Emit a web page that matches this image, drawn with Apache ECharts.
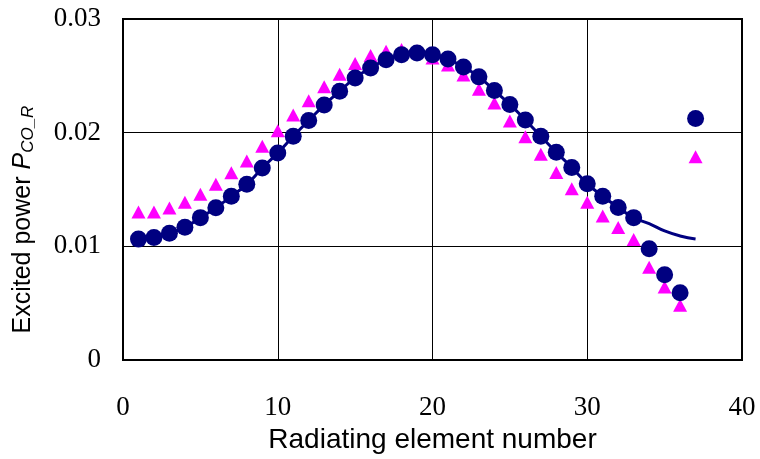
<!DOCTYPE html>
<html>
<head>
<meta charset="utf-8">
<script src="https://cdn.jsdelivr.net/npm/echarts@6/dist/echarts.min.js"></script>
<style>
  html, body { margin: 0; padding: 0; background: #fff; }
  #chart { width: 760px; height: 459px; }
</style>
</head>
<body>
<div id="chart"></div>
<script>
// element numbers 1..37
const elements = [1,2,3,4,5,6,7,8,9,10,11,12,13,14,15,16,17,18,19,20,21,22,23,24,25,26,27,28,29,30,31,32,33,34,35,36,37];

// navy circles
const circleVals = [0.01064,0.01078,0.01116,0.01168,0.01253,0.0134,0.01441,0.01546,0.01689,0.01822,
  0.01968,0.02107,0.02243,0.02365,0.02482,0.02569,0.02642,0.02685,0.027,0.02685,
  0.02648,0.02578,0.02491,0.02371,0.02249,0.02112,0.01968,0.01828,0.01694,0.01552,
  0.01441,0.01343,0.01253,0.00979,0.0075,0.00593,0.02125];

// magenta triangles
const triangleVals = [0.01302,0.01302,0.01337,0.01389,0.01459,0.01546,0.01648,0.01752,0.0188,0.02017,
  0.02156,0.02282,0.02404,0.02513,0.02609,0.02679,0.02717,0.02731,0.0272,0.02656,
  0.02595,0.02507,0.02383,0.02261,0.02104,0.01964,0.01811,0.0165,0.01506,0.01389,
  0.01267,0.01166,0.01061,0.00817,0.00643,0.00482,0.01789];

// solid navy curve
const curveVals = [0.01064,0.01078,0.01116,0.01168,0.01253,0.0134,0.01441,0.01546,0.01689,0.01822,
  0.01968,0.02107,0.02243,0.02365,0.02482,0.02569,0.02642,0.02685,0.027,0.02685,
  0.02648,0.02578,0.02491,0.02371,0.02249,0.02112,0.01968,0.01828,0.01694,0.01552,
  0.01441,0.01343,0.01253,0.0120,0.01136,0.01092,0.01066];

const xTicks = [0, 10, 20, 30, 40];
const yTicks = [0, 0.01, 0.02, 0.03];

const pair = (vals) => elements.map((e, i) => [e, vals[i]]);

const chart = echarts.init(document.getElementById('chart'));

const option = {
  animation: false,
  backgroundColor: '#fff',
  grid: {
    left: 123, right: 18, top: 19, bottom: 96,
    show: true, borderColor: '#000', borderWidth: 2
  },
  xAxis: {
    type: 'value',
    min: xTicks[0], max: xTicks[xTicks.length - 1], interval: 10,
    axisLine: { show: false },
    axisTick: { show: false },
    splitLine: { show: true, lineStyle: { color: '#000', width: 1 } },
    axisLabel: { color: '#000', fontFamily: 'Liberation Serif', fontSize: 27, margin: 34 },
    name: 'Radiating element number',
    nameLocation: 'middle',
    nameGap: 64,
    nameTextStyle: { color: '#000', fontFamily: 'Liberation Sans', fontSize: 28 }
  },
  yAxis: {
    type: 'value',
    min: yTicks[0], max: yTicks[yTicks.length - 1], interval: 0.01,
    axisLine: { show: false },
    axisTick: { show: false },
    splitLine: { show: true, lineStyle: { color: '#000', width: 1 } },
    axisLabel: { color: '#000', fontFamily: 'Liberation Serif', fontSize: 27, margin: 22 },
    name: '{a|Excited power }{p|P}{s|CO_R}',
    nameLocation: 'middle',
    nameRotate: 90,
    nameGap: 86,
    nameTextStyle: {
      color: '#000',
      padding: [0, 60, 0, 0],
      rich: {
        a: { fontFamily: 'Liberation Sans', fontSize: 25, color: '#000' },
        p: { fontFamily: 'Liberation Sans', fontSize: 25, fontStyle: 'italic', color: '#000' },
        s: { fontFamily: 'Liberation Sans', fontSize: 17, fontStyle: 'italic', color: '#000', padding: [10, 0, 0, 0] }
      }
    }
  },
  series: [
    {
      type: 'line',
      data: pair(curveVals),
      smooth: true,
      showSymbol: false,
      lineStyle: { color: '#000080', width: 3 },
      z: 1
    },
    {
      type: 'scatter',
      data: pair(triangleVals),
      symbol: 'triangle',
      symbolSize: [14, 13],
      itemStyle: { color: '#FF00FF', opacity: 1 },
      z: 2
    },
    {
      type: 'scatter',
      data: pair(circleVals),
      symbol: 'circle',
      symbolSize: 17,
      itemStyle: { color: '#000080', opacity: 1 },
      z: 3
    }
  ]
};

chart.setOption(option);
</script>
</body>
</html>
